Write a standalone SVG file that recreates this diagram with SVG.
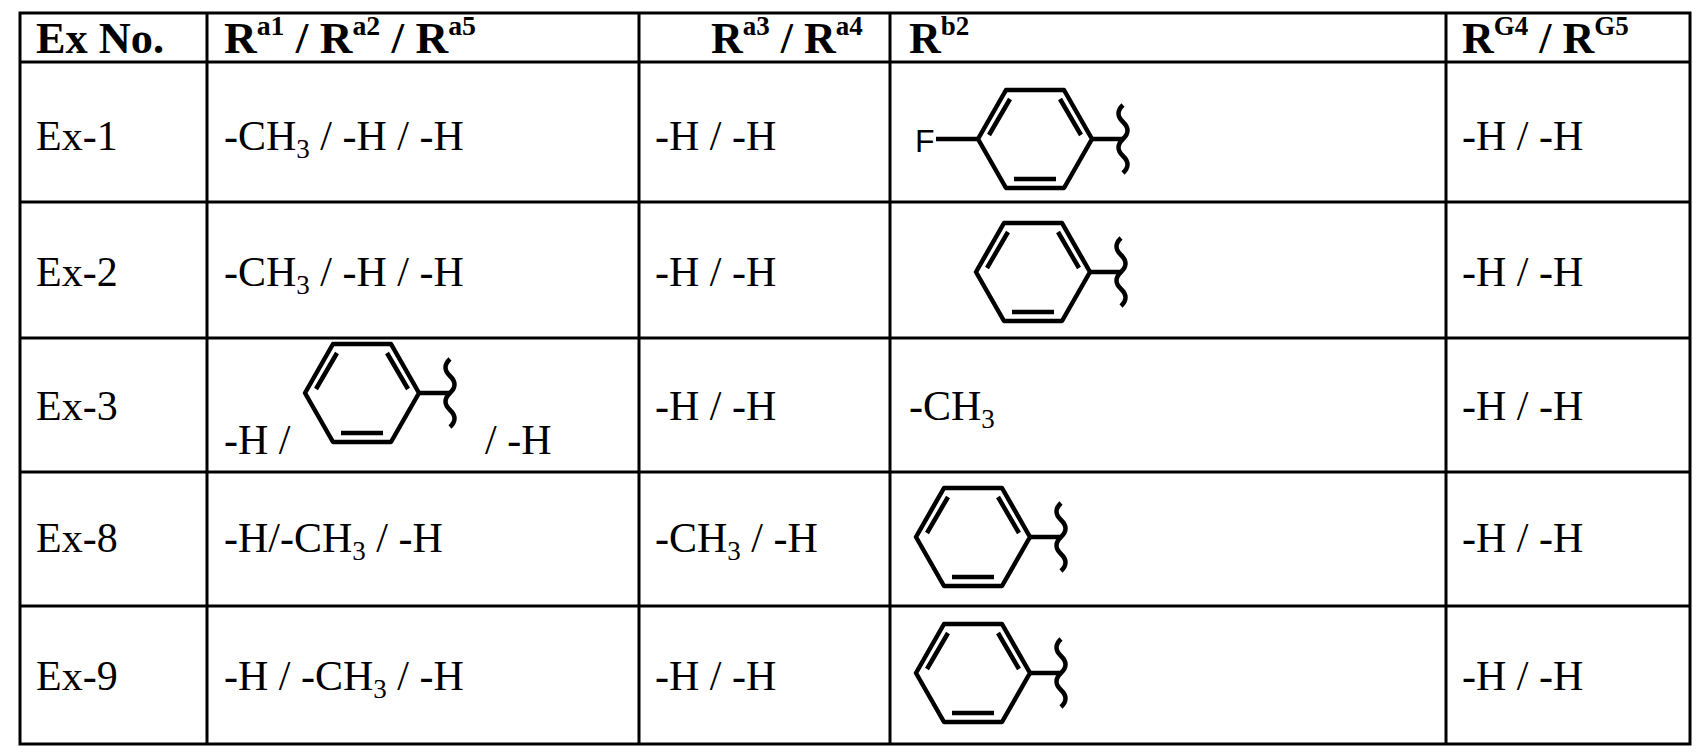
<svg xmlns="http://www.w3.org/2000/svg" width="1707" height="756" viewBox="0 0 1707 756">
<style>
.t{font-family:"Liberation Serif",serif;font-size:42px;fill:#000}
.h{font-family:"Liberation Serif",serif;font-size:44px;font-weight:bold;fill:#000}
.sup{font-size:27px}
.sub{font-size:27px}
.g{stroke:#000;stroke-width:3;fill:none}
.m{stroke:#000;stroke-width:4.5;fill:none;stroke-linejoin:round}
</style>
<defs>
<g id="ph">
<polygon class="m" points="-57,0 -29,-49 29,-49 57,0 29,49 -29,49"/>
<path class="m" d="M-46,-4 L-25,-40 M25,-40 L46,-4 M-21,40 L21,40 M57,0 L88,0"/>
<path class="m" stroke-width="4" d="M88,-34 q-9,8.5 0,17 t0,17 t0,17 t0,17"/>
</g>
</defs>
<rect x="0" y="0" width="1707" height="756" fill="#fff"/>
<g id="grid" class="g">
<rect x="20" y="13" width="1670" height="731"/>
<path d="M20,62H1690M20,202H1690M20,338H1690M20,472H1690M20,606H1690M207,13V744M639,13V744M890,13V744M1446,13V744"/>
</g>
<g id="header">
<text class="h" x="36" y="53" textLength="128" lengthAdjust="spacingAndGlyphs">Ex No.</text>
<text class="h" x="224" y="53" textLength="252" lengthAdjust="spacingAndGlyphs">R<tspan class="sup" dy="-18">a1</tspan><tspan dy="18"> / R</tspan><tspan class="sup" dy="-18">a2</tspan><tspan dy="18"> / R</tspan><tspan class="sup" dy="-18">a5</tspan></text>
<text class="h" x="711" y="53">R<tspan class="sup" dy="-18">a3</tspan><tspan dy="18"> / R</tspan><tspan class="sup" dy="-18">a4</tspan></text>
<text class="h" x="909" y="53">R<tspan class="sup" dy="-18">b2</tspan></text>
<text class="h" x="1462" y="53">R<tspan class="sup" dy="-18">G4</tspan><tspan dy="18"> / R</tspan><tspan class="sup" dy="-18">G5</tspan></text>
</g>
<g id="row1">
<text class="t" x="36" y="150">Ex-1</text>
<text class="t" x="224" y="150">-CH<tspan class="sub" dy="8">3</tspan><tspan dy="-8"> / -H / -H</tspan></text>
<text class="t" x="655" y="150">-H / -H</text>
<text x="915" y="152" font-family="Liberation Sans,sans-serif" font-size="32">F</text>
<line class="m" x1="936" y1="139" x2="978" y2="139"/>
<use href="#ph" x="1035" y="139"/>
<text class="t" x="1462" y="150">-H / -H</text>
</g>
<g id="row2">
<text class="t" x="36" y="286">Ex-2</text>
<text class="t" x="224" y="286">-CH<tspan class="sub" dy="8">3</tspan><tspan dy="-8"> / -H / -H</tspan></text>
<text class="t" x="655" y="286">-H / -H</text>
<use href="#ph" x="1033" y="272"/>
<text class="t" x="1462" y="286">-H / -H</text>
</g>
<g id="row3">
<text class="t" x="36" y="420">Ex-3</text>
<text class="t" x="224" y="454">-H /</text>
<use href="#ph" x="362" y="393"/>
<text class="t" x="485" y="454">/ -H</text>
<text class="t" x="655" y="420">-H / -H</text>
<text class="t" x="909" y="420">-CH<tspan class="sub" dy="8">3</tspan></text>
<text class="t" x="1462" y="420">-H / -H</text>
</g>
<g id="row8">
<text class="t" x="36" y="552">Ex-8</text>
<text class="t" x="224" y="552">-H/-CH<tspan class="sub" dy="8">3</tspan><tspan dy="-8"> / -H</tspan></text>
<text class="t" x="655" y="552">-CH<tspan class="sub" dy="8">3</tspan><tspan dy="-8"> / -H</tspan></text>
<use href="#ph" x="973" y="537"/>
<text class="t" x="1462" y="552">-H / -H</text>
</g>
<g id="row9">
<text class="t" x="36" y="690">Ex-9</text>
<text class="t" x="224" y="690">-H / -CH<tspan class="sub" dy="8">3</tspan><tspan dy="-8"> / -H</tspan></text>
<text class="t" x="655" y="690">-H / -H</text>
<use href="#ph" x="973" y="673"/>
<text class="t" x="1462" y="690">-H / -H</text>
</g>
</svg>
